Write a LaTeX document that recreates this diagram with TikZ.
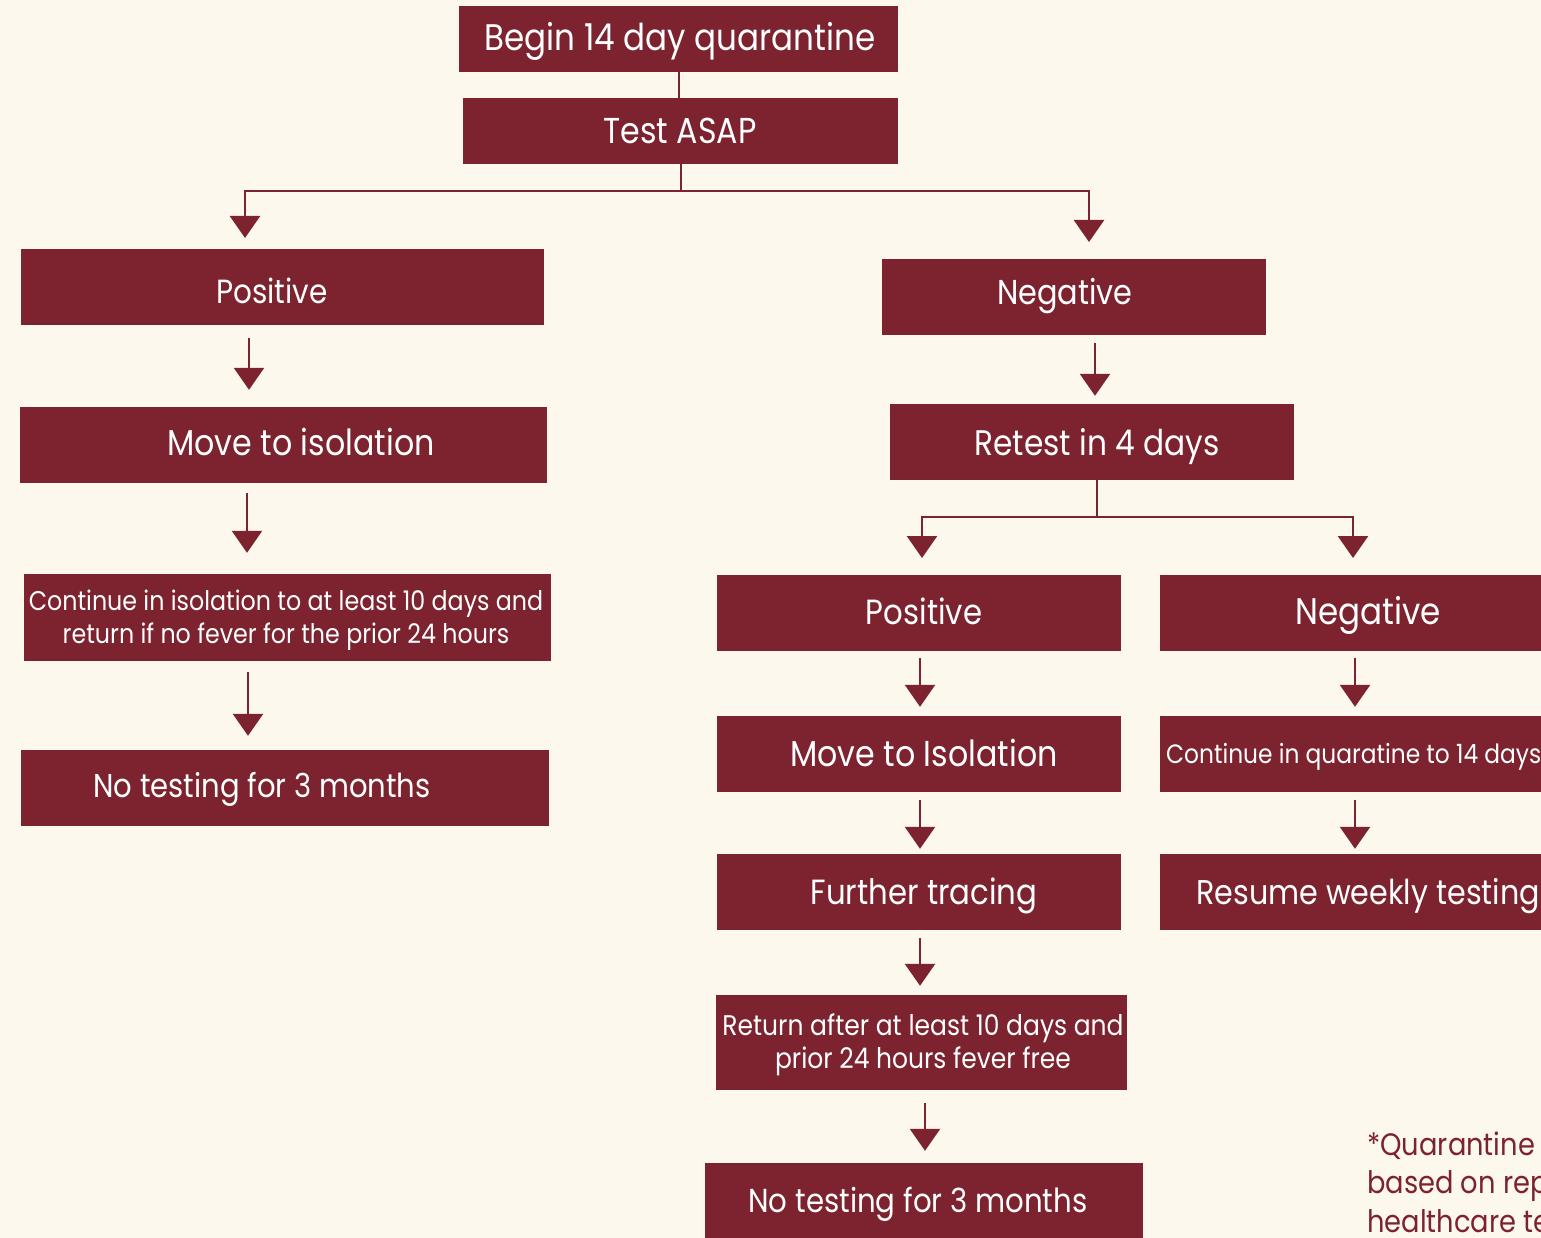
\documentclass[tikz,border=0pt]{standalone}
\usepackage{fontspec}
\setmainfont{Poppins}[FakeStretch=0.88]
\usetikzlibrary{arrows.meta,calc}
\definecolor{maroon}{RGB}{124,35,47}
\definecolor{cream}{RGB}{252,248,238}
\newcommand\fsz[1]{\fontsize{#1}{33}\selectfont}
\begin{document}
\begin{tikzpicture}[x=1pt,y=-1pt,
  box/.style={fill=maroon,draw=none,inner sep=0pt},
  lbl/.style={text=white,anchor=base,inner sep=0pt,font=\fsz{33}},
  small/.style={text=white,anchor=base,inner sep=0pt,align=center},
  conn/.style={draw=maroon,line width=2.6pt},
  arr/.style={conn,-{Triangle[width=30pt,length=22pt]}},
  note/.style={text=maroon,anchor=base west,inner sep=0pt,font=\fsz{31}}]
\useasboundingbox (0,0) rectangle (1541,1238);
\clip (0,0) rectangle (1541,1238);
\fill[cream] (0,0) rectangle (1541,1238);
% boxes
\node[box,minimum width=439pt,minimum height=66pt] (begin) at (678.5,39) {};
\node[box,minimum width=435pt,minimum height=66pt] (test) at (680.5,131) {};
\node[box,minimum width=523pt,minimum height=76pt] (posL) at (282.5,287) {};
\node[box,minimum width=527pt,minimum height=76pt] (moveL) at (283.5,445) {};
\node[box,minimum width=527pt,minimum height=87pt] (contL) at (287.5,617.5) {};
\node[box,minimum width=528pt,minimum height=76pt] (noL) at (285,788) {};
\node[box,minimum width=384pt,minimum height=76pt] (negR) at (1074,297) {};
\node[box,minimum width=404pt,minimum height=76pt] (retest) at (1092,442) {};
\node[box,minimum width=404pt,minimum height=76pt] (posR) at (919,613) {};
\node[box,minimum width=416pt,minimum height=76pt] (negRR) at (1368,613) {};
\node[box,minimum width=404pt,minimum height=76pt] (moveR) at (919,754) {};
\node[box,minimum width=416pt,minimum height=76pt] (contR) at (1368,754) {};
\node[box,minimum width=404pt,minimum height=76pt] (further) at (919,892) {};
\node[box,minimum width=416pt,minimum height=76pt] (resume) at (1368,892) {};
\node[box,minimum width=411pt,minimum height=95pt] (ret) at (921.5,1042.5) {};
\node[box,minimum width=438pt,minimum height=78pt] (noR) at (924,1202) {};
% texts
\node[lbl,font=\fsz{37}] (tbegin) at (680,51) {Begin 14 day quarantine};
\node[lbl,font=\fsz{36}] (ttest) at (680,144) {Test ASAP};
\node[lbl,font=\fsz{33.5}] (tposL) at (272,304) {Positive};
\node[lbl,font=\fsz{36}] (tmoveL) at (301,455) {Move to isolation};
\node[small,font=\fsz{27}] (tcontL) at (286,643) {Continue in isolation to at least 10 days and\\return if no fever for the prior 24 hours};
\node[lbl,font=\fsz{33}] (tnoL) at (262,797) {No testing for 3 months};
\node[lbl,font=\fsz{34.5}] (tnegR) at (1065,305) {Negative};
\node[lbl,font=\fsz{35.5}] (tretest) at (1097,455) {Retest in 4 days};
\node[lbl,font=\fsz{35}] (tposR) at (924,624) {Positive};
\node[lbl,font=\fsz{37}] (tnegRR) at (1368,624) {Negative};
\node[lbl,font=\fsz{36}] (tmoveR) at (924,766) {Move to Isolation};
\node[small,font=\fsz{26.5},anchor=base west] (tcontR) at (1166,763) {Continue in quaratine to 14 days};
\node[lbl,font=\fsz{34.3},anchor=base west] (tresume) at (1196,904) {Resume weekly testing};
\node[lbl,font=\fsz{35}] (tfurther) at (924,904) {Further tracing};
\node[small,font=\fsz{28.4}] (tret) at (923,1068) {Return after at least 10 days and\\prior 24 hours fever free};
\node[lbl,font=\fsz{33.2}] (tnoR) at (918,1212) {No testing for 3 months};
\node[note] (n1) at (1367,1155) {*Quarantine};
\node[note] (n2) at (1367,1193) {based on rep};
\node[note] (n3) at (1367,1232) {healthcare te};
% connector coordinates
\coordinate (x679) at (679,0);
\coordinate (x681) at (681,0);
\coordinate (j1) at (681,191);
\coordinate (tip1) at (245,238);
\coordinate (tip2) at (1089,242);
\coordinate (x1097) at (1097,0);
\coordinate (j2) at (1097,517);
\coordinate (tip3) at (922,558);
\coordinate (tip4) at (1353,558);
\coordinate (a1) at (249,0);
\coordinate (a2) at (247,0);
\coordinate (a3) at (248,0);
\coordinate (a4) at (1095,0);
\coordinate (a5) at (920,0);
\coordinate (a6) at (1355,0);
\coordinate (a7) at (925,0);
% connectors
\draw[conn] (begin.south -| x679) -- (test.north -| x679);
\draw[conn] (test.south -| x681) -- (j1);
\draw[arr] (j1) -| (tip1);
\draw[arr] (j1) -| (tip2);
\draw[conn] (retest.south -| x1097) -- (j2);
\draw[arr] (j2) -| (tip3);
\draw[arr] (j2) -| (tip4);
\draw[arr,shorten <=13pt,shorten >=17pt] (posL.south -| a1) -- (moveL.north -| a1);
\draw[arr,shorten <=10pt,shorten >=21pt] (moveL.south -| a2) -- (contL.north -| a2);
\draw[arr,shorten <=11pt,shorten >=14pt] (contL.south -| a3) -- (noL.north -| a3);
\draw[arr,shorten <=8pt,shorten >=8pt] (negR.south -| a4) -- (retest.north -| a4);
\draw[arr,shorten <=7pt,shorten >=9pt] (posR.south -| a5) -- (moveR.north -| a5);
\draw[arr,shorten <=7pt,shorten >=9pt] (negRR.south -| a6) -- (contR.north -| a6);
\draw[arr,shorten <=8pt,shorten >=5pt] (moveR.south -| a5) -- (further.north -| a5);
\draw[arr,shorten <=8pt,shorten >=5pt] (contR.south -| a6) -- (resume.north -| a6);
\draw[arr,shorten <=8pt,shorten >=9pt] (further.south -| a5) -- (ret.north -| a5);
\draw[arr,shorten <=13pt,shorten >=12pt] (ret.south -| a7) -- (noR.north -| a7);
\end{tikzpicture}
\end{document}
